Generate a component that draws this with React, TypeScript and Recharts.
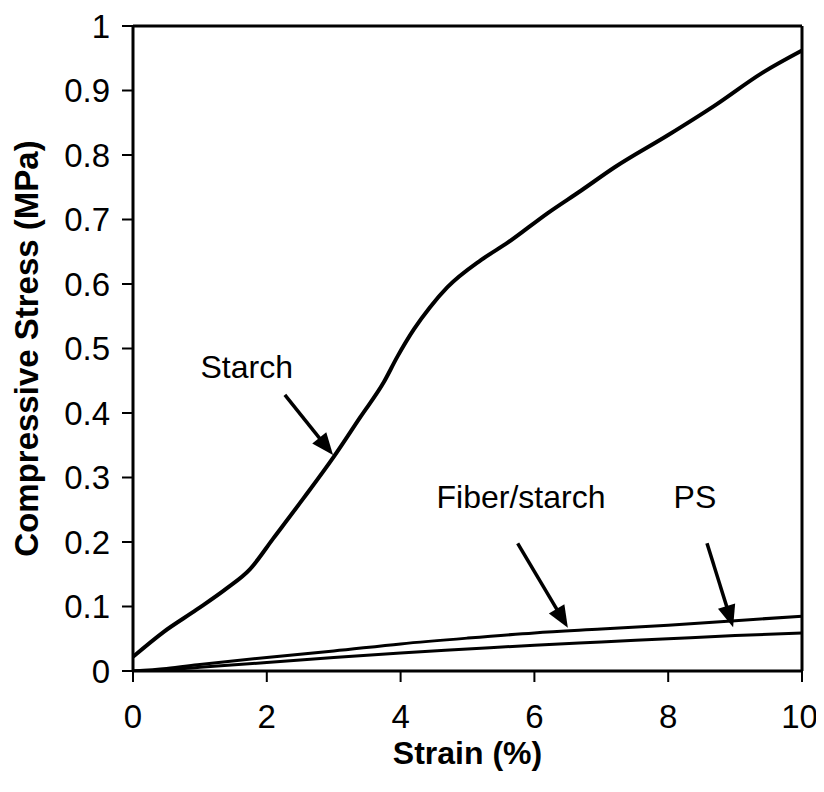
import React from "react";
import {
  LineChart,
  Line,
  XAxis,
  YAxis,
  ReferenceLine,
  ReferenceDot,
} from "recharts";

// ---- Data ----
const starchStrain = [0, 0.45, 0.95, 1.4, 1.75, 2.1, 2.55, 3.0, 3.4, 3.75, 3.95, 4.2, 4.44, 4.7, 5.2, 5.6, 6.2, 6.7, 7.2, 8.0, 8.7, 9.4, 10];
const starchStress = [0.022, 0.06, 0.095, 0.128, 0.158, 0.206, 0.268, 0.332, 0.394, 0.448, 0.487, 0.53, 0.564, 0.595, 0.637, 0.664, 0.71, 0.745, 0.781, 0.831, 0.877, 0.927, 0.962];

const fiberStrain = [0, 0.5, 1, 2, 3, 4, 5, 6, 7, 8, 9, 10];
const fiberStress = [0, 0.004, 0.01, 0.021, 0.031, 0.042, 0.051, 0.059, 0.065, 0.071, 0.078, 0.085];

const psStrain = [0, 0.5, 1, 2, 3, 4, 5, 6, 7, 8, 9, 10];
const psStress = [0, 0.002, 0.006, 0.013, 0.021, 0.028, 0.034, 0.04, 0.045, 0.05, 0.055, 0.059];

const xTicks = [0, 2, 4, 6, 8, 10];
const yTicks = [0, 0.1, 0.2, 0.3, 0.4, 0.5, 0.6, 0.7, 0.8, 0.9, 1];
const yTickLabels = ["0", "0.1", "0.2", "0.3", "0.4", "0.5", "0.6", "0.7", "0.8", "0.9", "1"];

// annotation labels: [text, strain, stress]
const labelTexts = ["Starch", "Fiber/starch", "PS"];
const labelStrain = [1.7, 5.8, 8.4];
const labelStress = [0.471, 0.27, 0.27];

// arrows: tail -> tip in data coords
const arrowTailStrain = [2.27, 5.75, 8.58];
const arrowTailStress = [0.428, 0.198, 0.198];
const arrowTipStrain = [2.99, 6.5, 8.97];
const arrowTipStress = [0.335, 0.067, 0.068];

const toSeries = (xs: number[], ys: number[]) => xs.map((x, i) => ({ x, y: ys[i] }));
const starchData = toSeries(starchStrain, starchStress);
const fiberData = toSeries(fiberStrain, fiberStress);
const psData = toSeries(psStrain, psStress);

const FONT = "Arial, 'Liberation Sans', Helvetica, sans-serif";

const ArrowShape = (p: any) => {
  const { x1, y1, x2, y2 } = p;
  if ([x1, y1, x2, y2].some((v) => typeof v !== "number" || isNaN(v))) return <g />;
  const dx = x2 - x1;
  const dy = y2 - y1;
  const len = Math.sqrt(dx * dx + dy * dy);
  const ux = dx / len;
  const uy = dy / len;
  const headLen = 22;
  const headHalf = 9;
  const bx = x2 - ux * headLen;
  const by = y2 - uy * headLen;
  const px = -uy;
  const py = ux;
  return (
    <g>
      <line x1={x1} y1={y1} x2={bx + ux * 2} y2={by + uy * 2} stroke="#000" strokeWidth={3.5} />
      <polygon
        points={`${x2},${y2} ${bx + px * headHalf},${by + py * headHalf} ${bx - px * headHalf},${by - py * headHalf}`}
        fill="#000"
      />
    </g>
  );
};

const YTitle = (props: any) => {
  const vb = props.viewBox || {};
  const cx = vb.x + 18;
  const cy = vb.y + vb.height / 2;
  return (
    <text
      x={cx}
      y={cy}
      transform={`rotate(-90, ${cx}, ${cy})`}
      textAnchor="middle"
      dominantBaseline="central"
      fontFamily={FONT}
      fontWeight="bold"
      fontSize={33}
      fill="#000"
    >
      Compressive Stress (MPa)
    </text>
  );
};

const XTitle = (props: any) => {
  const vb = props.viewBox || {};
  const cx = vb.x + vb.width / 2;
  const cy = vb.y + 82;
  return (
    <text
      x={cx}
      y={cy}
      textAnchor="middle"
      dominantBaseline="central"
      fontFamily={FONT}
      fontWeight="bold"
      fontSize={32}
      fill="#000"
    >
      Strain (%)
    </text>
  );
};

export default function App() {
  return (
    <div style={{ width: 808, height: 776, background: "#fff" }}>
      <style>{`.recharts-surface { overflow: visible; }`}</style>
      <LineChart
        width={808}
        height={776}
        margin={{ top: 18, right: 14, bottom: 13, left: 0 }}
      >
        <XAxis
          type="number"
          dataKey="x"
          domain={[0, 10]}
          ticks={xTicks}
          allowDataOverflow
          height={100}
          axisLine={{ stroke: "#000", strokeWidth: 3 }}
          tickLine={{ stroke: "#000", strokeWidth: 2 }}
          tickSize={11}
          tickMargin={23}
          tick={{ fill: "#000", fontSize: 33, fontFamily: FONT }}
          label={<XTitle />}
        />
        <YAxis
          type="number"
          dataKey="y"
          domain={[0, 1]}
          ticks={yTicks}
          allowDataOverflow
          width={125}
          axisLine={{ stroke: "#000", strokeWidth: 3 }}
          tickLine={{ stroke: "#000", strokeWidth: 2 }}
          tickSize={11}
          tickMargin={12}
          tick={{ fill: "#000", fontSize: 33, fontFamily: FONT }}
          tickFormatter={(v: number) => yTickLabels[yTicks.indexOf(v)] ?? String(v)}
          label={<YTitle />}
        />
        <ReferenceLine y={1} stroke="#000" strokeWidth={3} />
        <ReferenceLine x={10} stroke="#000" strokeWidth={3} />
        <Line
          data={psData}
          dataKey="y"
          type="monotone"
          stroke="#000"
          strokeWidth={3}
          dot={false}
          isAnimationActive={false}
        />
        <Line
          data={fiberData}
          dataKey="y"
          type="monotone"
          stroke="#000"
          strokeWidth={3}
          dot={false}
          isAnimationActive={false}
        />
        <Line
          data={starchData}
          dataKey="y"
          type="monotone"
          stroke="#000"
          strokeWidth={4}
          dot={false}
          isAnimationActive={false}
        />
        {labelTexts.map((_, i) => (
          <ReferenceLine
            key={`arrow-${i}`}
            segment={[
              { x: arrowTailStrain[i], y: arrowTailStress[i] },
              { x: arrowTipStrain[i], y: arrowTipStress[i] },
            ]}
            shape={ArrowShape}
          />
        ))}
        {labelTexts.map((t, i) => (
          <ReferenceDot
            key={`label-${i}`}
            x={labelStrain[i]}
            y={labelStress[i]}
            r={0}
            shape={(p: any) => (
              <text
                x={p.cx}
                y={p.cy}
                textAnchor="middle"
                dominantBaseline="central"
                fontFamily={FONT}
                fontSize={32}
                fill="#000"
              >
                {t}
              </text>
            )}
          />
        ))}
      </LineChart>
    </div>
  );
}
